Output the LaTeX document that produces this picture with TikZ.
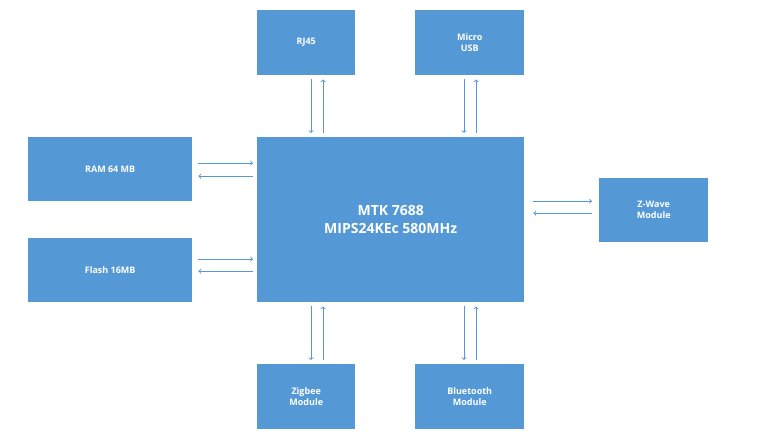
\documentclass[tikz,border=0pt]{standalone}
\usepackage{fontspec}
\setmainfont{Open Sans}
\usepackage{tikz}
\usetikzlibrary{arrows}
\definecolor{boxblue}{HTML}{5499D6}
\tikzstyle{block} = [rectangle, anchor=north west, inner sep=0pt, text centered, align=center, fill=boxblue, text=white, font=\bfseries\fontsize{9}{11}\selectfont]
\tikzstyle{arrow} = [draw=boxblue, line width=0.9pt, ->, >=to]

\begin{document}
\begin{tikzpicture}[x=1pt, y=-1pt]
        \useasboundingbox (0,0) rectangle (782,438);
        \node (main) [block, minimum width=267pt, minimum height=165pt, font=\bfseries\fontsize{14}{18}\selectfont] at (257,137) {MTK 7688\\MIPS24KEc 580MHz};
        \node (rj45) [block, minimum width=98pt, minimum height=65pt] at (257,10) {RJ45};
        \node (usb) [block, minimum width=109pt, minimum height=65pt] at (415,10) {Micro\\USB};
        \node (ram) [block, minimum width=164pt, minimum height=64pt] at (28,137) {RAM 64 MB};
        \node (flash) [block, minimum width=164pt, minimum height=64pt] at (28,238) {Flash 16MB};
        \node (zwave) [block, minimum width=109pt, minimum height=64pt] at (599,178) {Z-Wave\\Module};
        \node (zigbee) [block, minimum width=98pt, minimum height=65pt] at (257,364) {Zigbee\\Module};
        \node (bt) [block, minimum width=109pt, minimum height=65pt] at (415,364) {Bluetooth\\Module};

        \draw [arrow] ([xshift=54pt,yshift=-4pt]rj45.south west) -- ([xshift=54pt,yshift=4pt]main.north west);
        \draw [arrow] ([xshift=66pt,yshift=4pt]main.north west) -- ([xshift=66pt,yshift=-4pt]rj45.south west);
        \draw [arrow] ([xshift=49pt,yshift=-4pt]usb.south west) -- ([xshift=207pt,yshift=4pt]main.north west);
        \draw [arrow] ([xshift=219pt,yshift=4pt]main.north west) -- ([xshift=61pt,yshift=-4pt]usb.south west);
        \draw [arrow] ([xshift=6pt,yshift=6pt]ram.east) -- ([xshift=-4pt,yshift=6pt]main.west |- ram.east);
        \draw [arrow] ([xshift=-4pt,yshift=-7pt]main.west |- ram.east) -- ([xshift=6pt,yshift=-7pt]ram.east);
        \draw [arrow] ([xshift=6pt,yshift=11pt]flash.east) -- ([xshift=-4pt,yshift=11pt]main.west |- flash.east);
        \draw [arrow] ([xshift=-4pt,yshift=-1pt]main.west |- flash.east) -- ([xshift=6pt,yshift=-1pt]flash.east);
        \draw [arrow] ([xshift=9pt,yshift=9pt]main.east |- zwave.west) -- ([xshift=-7pt,yshift=9pt]zwave.west);
        \draw [arrow] ([xshift=-7pt,yshift=-3pt]zwave.west) -- ([xshift=9pt,yshift=-3pt]main.east |- zwave.west);
        \draw [arrow] ([xshift=54pt,yshift=-4pt]main.south west) -- ([xshift=54pt,yshift=4pt]zigbee.north west);
        \draw [arrow] ([xshift=66pt,yshift=4pt]zigbee.north west) -- ([xshift=66pt,yshift=-4pt]main.south west);
        \draw [arrow] ([xshift=207pt,yshift=-4pt]main.south west) -- ([xshift=49pt,yshift=4pt]bt.north west);
        \draw [arrow] ([xshift=61pt,yshift=4pt]bt.north west) -- ([xshift=219pt,yshift=-4pt]main.south west);
\end{tikzpicture}
\end{document}
